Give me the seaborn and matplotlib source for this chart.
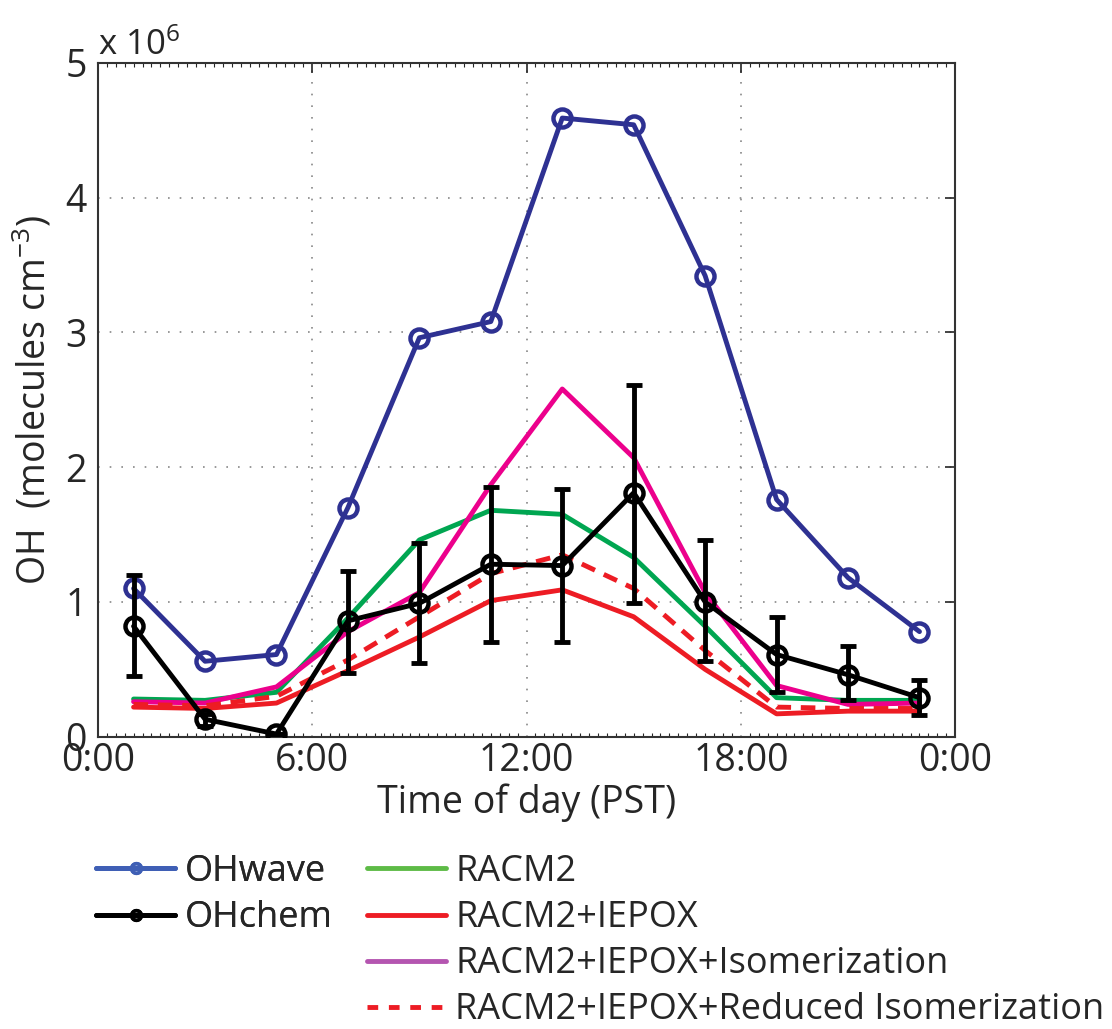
import pandas as pd
import seaborn as sns
import matplotlib.pyplot as plt
from matplotlib.lines import Line2D
from matplotlib.ticker import MultipleLocator

sns.set_style("white")
plt.rcParams['font.family'] = ['Open Sans', 'DejaVu Sans']
plt.rcParams['mathtext.fontset'] = 'custom'
plt.rcParams['mathtext.rm'] = 'Open Sans'
plt.rcParams['mathtext.it'] = 'Open Sans'

### data (OH in units of 1e6 molecules cm-3) ###
hour = [1, 3, 5, 7, 9, 11, 13, 15, 17, 19, 21, 23]

oh_wave = [1.10, 0.56, 0.61, 1.70, 2.96, 3.08, 4.59, 4.54, 3.42, 1.76, 1.18, 0.78]
oh_chem = [0.82, 0.13, 0.02, 0.86, 0.99, 1.28, 1.27, 1.81, 1.00, 0.61, 0.46, 0.29]
oh_chem_lo = [0.45, 0.08, 0.02, 0.47, 0.55, 0.70, 0.70, 0.99, 0.56, 0.33, 0.27, 0.16]
oh_chem_hi = [1.20, 0.17, 0.02, 1.23, 1.44, 1.85, 1.84, 2.61, 1.46, 0.89, 0.67, 0.42]

racm2 = [0.28, 0.27, 0.33, 0.88, 1.46, 1.68, 1.65, 1.33, 0.82, 0.29, 0.27, 0.27]
racm2_iepox = [0.22, 0.21, 0.25, 0.49, 0.74, 1.01, 1.09, 0.89, 0.50, 0.17, 0.19, 0.19]
racm2_iso = [0.26, 0.25, 0.37, 0.78, 1.07, 1.87, 2.58, 2.07, 1.07, 0.38, 0.24, 0.25]
racm2_red_iso = [0.24, 0.23, 0.30, 0.57, 0.89, 1.21, 1.35, 1.10, 0.64, 0.22, 0.21, 0.21]

df = pd.DataFrame({"hour": hour, "wave": oh_wave, "chem": oh_chem,
                   "racm2": racm2, "iepox": racm2_iepox,
                   "iso": racm2_iso, "rediso": racm2_red_iso})

c_blue = "#2E3192"
c_green = "#00A651"
c_red = "#ED1C24"
c_mag = "#EC008C"

font_size = 27
leg_size = 26
lw = 3.5

fig = plt.figure(figsize=(11.12, 10.29), dpi=100)
ax = fig.add_axes([0.088, 0.284, 0.771, 0.655])

sns.lineplot(ax=ax, data=df, x="hour", y="racm2", color=c_green, lw=lw)
sns.lineplot(ax=ax, data=df, x="hour", y="iepox", color=c_red, lw=lw)
sns.lineplot(ax=ax, data=df, x="hour", y="iso", color=c_mag, lw=lw)
sns.lineplot(ax=ax, data=df, x="hour", y="rediso", color=c_red, lw=lw,
             linestyle=(0, (3.0, 2.0)))
sns.lineplot(ax=ax, data=df, x="hour", y="wave", color=c_blue, lw=lw,
             marker="o", markersize=13, markerfacecolor="none",
             markeredgecolor=c_blue, markeredgewidth=3.2)

yerr = [[c - l for c, l in zip(oh_chem, oh_chem_lo)],
        [h - c for c, h in zip(oh_chem, oh_chem_hi)]]
ax.errorbar(hour, oh_chem, yerr=yerr, fmt="none", ecolor="black",
            elinewidth=lw, capsize=6, capthick=lw, zorder=3)
sns.lineplot(ax=ax, data=df, x="hour", y="chem", color="black", lw=lw,
             marker="o", markersize=13, markerfacecolor="none",
             markeredgecolor="black", markeredgewidth=3.2, zorder=4)

ax.set_xlim(0, 24)
ax.set_ylim(0, 5)
ax.set_xticks([0, 6, 12, 18, 24])
ax.set_xticklabels(["0:00", "6:00", "12:00", "18:00", "0:00"])
ax.set_yticks([0, 1, 2, 3, 4, 5])
ax.xaxis.set_minor_locator(MultipleLocator(0.25))
ax.tick_params(which="major", direction="in", length=7, width=1.2,
               top=True, right=True, labelsize=font_size)
ax.tick_params(which="major", axis="x", pad=4)
ax.tick_params(which="major", axis="y", pad=8)
ax.tick_params(which="minor", axis="x", direction="in", length=3, width=0.8,
               top=True, bottom=True)
ax.grid(True, which="major", linestyle=(0, (1, 6)), color="#888888", lw=1.2)
for s in ax.spines.values():
    s.set_color("#333333")
    s.set_linewidth(1.5)

ax.set_xlabel("Time of day (PST)", fontsize=font_size, labelpad=2)
ax.set_ylabel("OH  (molecules cm$^{-3}$)", fontsize=font_size, labelpad=8)
ax.text(0.0, 1.0, "x 10$^6$", transform=ax.transAxes, fontsize=font_size - 2,
        ha="left", va="bottom")

h1 = [Line2D([], [], color="#3F5FB5", lw=lw, marker="o", markersize=7,
             markerfacecolor="none", markeredgewidth=2.5),
      Line2D([], [], color="black", lw=lw, marker="o", markersize=7,
             markerfacecolor="none", markeredgewidth=2.5)]
leg_kw = dict(loc="upper left", frameon=False, fontsize=leg_size,
              handlelength=2.2, handletextpad=0.25, labelspacing=0.28,
              borderaxespad=0, borderpad=0)
leg1 = fig.legend(h1, ["OHwave", "OHchem"], bbox_to_anchor=(0.0863, 0.170),
                  **leg_kw)
h2 = [Line2D([], [], color="#5DBB46", lw=lw),
      Line2D([], [], color=c_red, lw=lw),
      Line2D([], [], color="#B455B0", lw=lw),
      Line2D([], [], color=c_red, lw=lw, linestyle=(0, (2.2, 2.2)))]
fig.legend(h2, ["RACM2", "RACM2+IEPOX", "RACM2+IEPOX+Isomerization",
                "RACM2+IEPOX+Reduced Isomerization"],
           bbox_to_anchor=(0.330, 0.170), **leg_kw)
fig.add_artist(leg1)

plt.savefig("out.png", dpi=100)
